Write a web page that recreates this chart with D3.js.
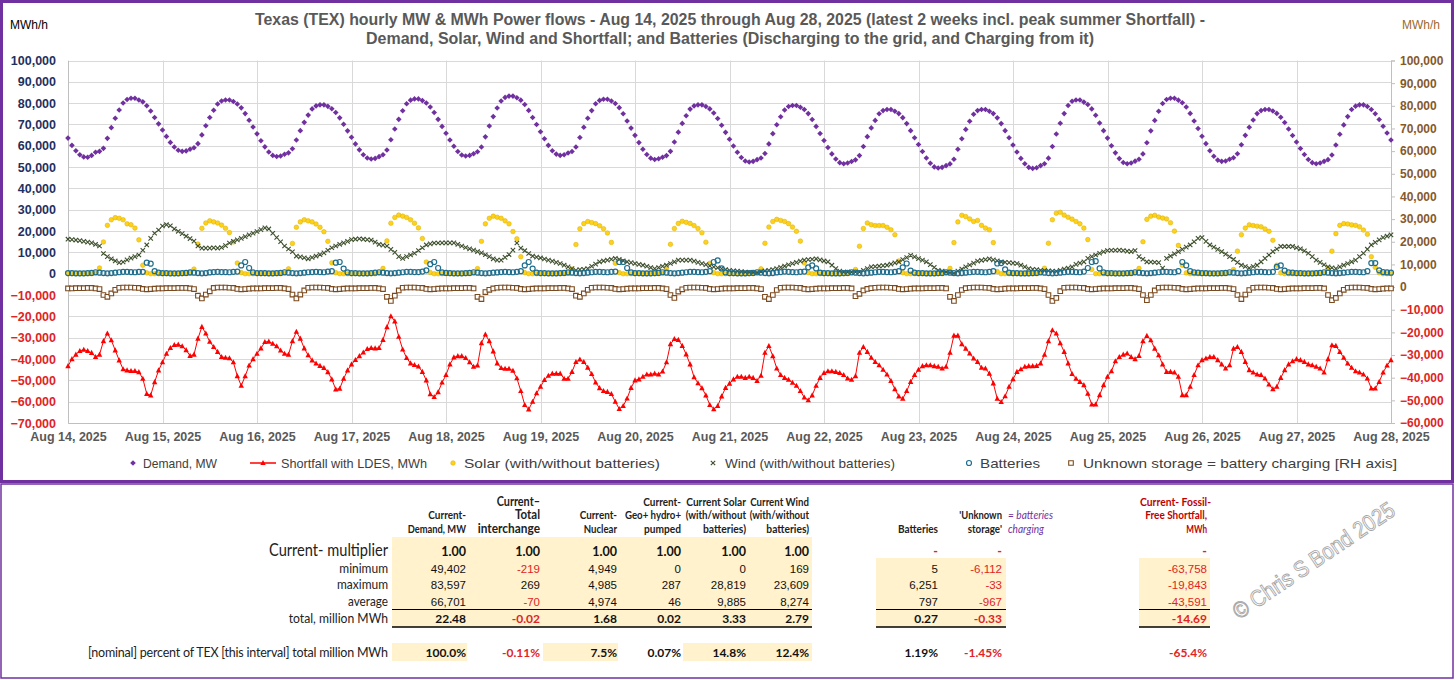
<!DOCTYPE html>
<html>
<head>
<meta charset="utf-8">
<script src="https://cdn.jsdelivr.net/npm/d3@7"></script>
<style>
  body { margin: 0; background: #fff; }
  svg { display: block; }
</style>
</head>
<body>
<svg id="chart" width="1456" height="680"></svg>
<script>
// hourly values, thousands of MW / MWh, Aug 14 00:00 .. Aug 28 00:00 (337 points)
const demandK = [
  63.6,60.2,57.7,55.8,54.8,54.6,55.5,57.0,57.4,58.8,63.5,68.5,72.9,76.8,80.1,81.7,82.3,82.3,81.5,80.6,78.8,76.3,73.3,70.3,
  67.4,64.4,61.6,59.4,57.9,57.4,57.6,58.4,59.1,61.0,65.1,69.4,73.3,76.7,79.6,81.0,81.5,81.5,80.8,79.6,77.8,75.1,72.0,68.8,
  65.6,62.4,59.5,57.1,55.5,55.0,55.2,56.0,56.7,58.6,62.7,67.1,71.0,74.4,77.3,78.7,79.2,79.2,78.5,77.4,75.6,73.1,70.1,67.0,
  64.0,60.9,58.1,55.8,54.3,53.8,54.1,54.9,55.8,58.0,62.8,67.9,72.4,76.4,79.7,81.4,82.0,82.0,81.2,80.1,78.2,75.6,72.4,69.1,
  65.9,62.7,59.8,57.3,55.7,55.2,55.5,56.3,57.2,59.4,64.2,69.3,73.7,77.7,81.0,82.7,83.3,83.3,82.5,81.4,79.4,76.6,73.3,70.0,
  66.6,63.3,60.2,57.7,56.1,55.5,55.8,56.6,57.3,59.4,63.9,68.7,72.9,76.5,79.7,81.3,81.8,81.8,81.0,79.8,77.9,75.0,71.6,68.3,
  64.9,61.5,58.4,55.9,54.2,53.6,53.9,54.6,55.4,57.4,61.8,66.4,70.5,74.1,77.2,78.7,79.2,79.2,78.4,77.3,75.4,72.8,69.6,66.3,
  63.1,59.9,57.0,54.5,52.9,52.4,52.7,53.5,54.3,56.4,60.9,65.7,69.9,73.6,76.8,78.4,78.9,78.9,78.1,77.0,75.1,72.3,69.1,65.8,
  62.5,59.2,56.2,53.8,52.1,51.6,51.9,52.6,53.4,55.4,59.7,64.3,68.4,71.9,75.0,76.5,77.0,77.0,76.2,75.1,73.2,70.4,67.1,63.8,
  60.6,57.3,54.3,51.8,50.1,49.6,49.9,50.7,51.5,53.7,58.4,63.3,67.7,71.5,74.8,76.5,77.0,77.0,76.2,75.1,73.1,70.4,67.1,63.8,
  60.4,57.1,54.1,51.6,49.9,49.4,49.7,50.7,51.6,54.2,59.7,65.5,70.6,75.1,78.9,80.9,81.5,81.5,80.5,79.4,77.3,74.3,70.7,67.1,
  63.6,60.0,56.7,54.0,52.2,51.6,51.9,52.8,53.7,56.2,61.4,67.0,71.9,76.2,79.8,81.7,82.3,82.3,81.4,80.2,78.2,75.2,71.6,68.1,
  64.5,61.0,57.7,55.1,53.3,52.7,52.9,53.7,54.4,56.3,60.5,64.9,68.7,72.1,75.1,76.5,77.0,77.0,76.3,75.2,73.4,70.9,67.9,64.8,
  61.8,58.7,55.9,53.6,52.1,51.6,51.9,52.7,53.5,55.7,60.4,65.4,69.8,73.7,77.0,78.6,79.2,79.2,78.4,77.0,75.0,72.3,69.2,66.0,
  62.7
];
const shortfallK = [
  -43.3,-40.0,-37.9,-36.2,-35.6,-36.2,-37.1,-39.0,-37.9,-31.6,-28.0,-31.2,-35.9,-40.6,-44.8,-45.3,-45.6,-45.6,-46.1,-49.2,-56.3,-57.0,-50.8,-45.3,
  -41.5,-37.5,-34.8,-33.4,-33.2,-34.0,-35.8,-38.5,-37.9,-30.4,-24.9,-28.0,-31.9,-34.3,-36.6,-39.0,-39.4,-39.6,-41.5,-48.0,-52.5,-48.0,-43.0,-40.0,
  -37.5,-35.0,-32.0,-31.8,-32.8,-34.0,-36.0,-37.5,-37.9,-31.6,-27.2,-30.4,-35.0,-38.2,-40.6,-42.1,-43.2,-44.2,-46.1,-49.5,-54.2,-53.9,-49.2,-45.3,
  -42.5,-40.4,-38.6,-36.9,-35.3,-34.8,-35.0,-34.8,-31.0,-25.0,-19.9,-22.3,-29.5,-35.5,-39.5,-42.0,-42.8,-43.5,-46.0,-50.0,-56.5,-57.8,-55.5,-51.0,
  -47.5,-42.5,-39.2,-38.6,-38.6,-39.5,-41.5,-43.6,-43.0,-32.5,-28.5,-31.6,-36.4,-42.0,-44.2,-44.5,-44.5,-45.5,-49.0,-55.0,-61.5,-63.6,-60.0,-56.0,
  -53.0,-49.8,-47.8,-46.8,-46.8,-46.8,-49.2,-49.2,-46.0,-41.4,-40.2,-41.4,-44.0,-47.0,-51.0,-53.6,-55.0,-55.4,-56.4,-60.0,-63.4,-62.0,-58.5,-53.5,
  -50.0,-49.5,-48.3,-47.2,-47.2,-46.8,-47.2,-45.8,-41.5,-33.0,-30.6,-31.0,-33.8,-37.8,-42.5,-48.5,-51.3,-53.6,-57.0,-61.5,-63.5,-62.0,-57.5,-53.5,
  -51.5,-49.5,-48.3,-48.3,-48.8,-48.3,-48.8,-50.2,-47.8,-37.0,-33.9,-38.6,-44.4,-47.5,-48.8,-49.7,-51.1,-52.5,-55.0,-58.0,-59.3,-57.0,-52.5,-48.8,
  -46.5,-45.7,-45.7,-46.0,-46.5,-47.5,-49.1,-49.7,-48.0,-37.0,-34.3,-36.6,-39.4,-41.3,-42.9,-45.0,-47.2,-50.2,-54.1,-57.5,-58.6,-55.0,-50.7,-47.5,
  -45.0,-43.3,-42.9,-42.9,-43.3,-43.6,-44.4,-43.6,-37.0,-29.0,-29.0,-33.0,-35.1,-37.4,-39.7,-41.3,-44.1,-44.4,-46.8,-51.4,-58.6,-60.1,-57.4,-53.0,
  -49.4,-46.0,-44.8,-43.6,-43.3,-43.3,-43.2,-42.0,-38.0,-31.6,-26.5,-28.0,-32.6,-36.6,-42.0,-47.0,-49.2,-50.7,-52.2,-56.2,-61.3,-61.3,-56.9,-52.2,
  -48.3,-45.7,-41.0,-39.0,-37.9,-37.4,-39.0,-40.0,-38.5,-31.6,-29.1,-31.2,-35.1,-38.2,-42.5,-46.0,-46.0,-46.3,-48.3,-56.9,-56.9,-53.0,-47.5,-42.9,
  -40.5,-39.7,-39.0,-39.0,-40.5,-42.5,-44.4,-42.9,-35.1,-34.3,-36.6,-41.3,-45.2,-46.3,-47.2,-47.5,-49.1,-51.9,-54.1,-53.0,-48.8,-45.2,-42.5,-41.0,
  -40.0,-40.5,-41.3,-42.5,-42.9,-43.6,-44.4,-46.3,-40.0,-33.5,-33.8,-36.6,-39.4,-42.1,-44.1,-45.7,-46.3,-47.2,-49.1,-53.8,-53.8,-50.7,-46.3,-43.0,
  -40.5
];
const solarK = [
  0,0,0,0,0,0,0,0.3,2.7,14.9,22.7,25.3,26.3,26.0,25.3,23.4,23.0,21.4,15.9,4.0,0.4,0,0,0,
  0,0,0,0,0,0,0,0.2,2.2,13.9,21.3,23.8,24.8,24.3,23.8,22.8,21.3,19.3,14.9,5.0,0.5,0,0,0,
  0,0,0,0,0,0,0,0.3,2.3,14.2,21.8,24.3,25.3,24.8,24.3,23.3,21.8,19.7,15.2,5.1,0.5,0,0,0,
  0,0,0,0,0,0,0,0.3,2.5,15.4,23.7,26.4,27.5,27.0,26.4,25.3,23.7,21.5,16.5,5.5,0.6,0,0,0,
  0,0,0,0,0,0,0,0.3,2.4,15.2,23.4,26.0,27.0,26.5,26.0,24.8,23.4,19.8,16.4,8.0,0.5,0,0,0,
  0,0,0,0,0,0,0,0.2,2.2,13.7,21.1,23.5,24.5,24.0,23.5,22.5,21.1,19.1,14.7,4.9,0.5,0,0,0,
  0,0,0,0,0,0,0,0.2,2.2,13.8,21.2,23.6,24.6,24.1,23.6,22.6,21.2,19.2,14.8,4.9,0.5,0,0,0,
  0,0,0,0,0,0,0,0.3,2.3,14.3,21.9,24.5,25.5,25.0,24.5,23.5,21.9,19.9,15.3,5.1,0.5,0,0,0,
  0,0,0,0,0,0,0,0.2,2.0,12.9,21.2,23.8,23.0,22.6,22.6,22.6,21.8,20.6,18.3,6.0,0.5,0,0,0,
  0,0,0,0,0,0,0,0.3,2.5,14.6,24.3,27.4,26.8,25.7,24.5,25.0,22.7,21.4,20.6,14.6,1.0,0,0,0,
  0,0,0,0,0,0,0,0.3,2.6,14.3,25.3,28.4,28.8,27.5,26.5,25.6,24.5,23.4,21.4,16.0,2.0,0,0,0,
  0,0,0,0,0,0,0,0.3,2.5,15.0,25.5,27.0,27.4,26.6,26.1,25.7,23.9,20.0,13.3,4.0,0.4,0,0,0,
  0,0,0,0,0,0,0,0.2,2.0,10.6,18.3,21.4,22.9,22.6,22.3,22.0,21.0,19.9,15.7,4.0,0.4,0,0,0,
  0,0,0,0,0,0,0,0.3,2.5,10.6,18.8,22.7,23.5,23.3,22.9,22.7,22.0,20.5,18.5,8.0,3.0,0.5,0,0,
  0
];
const windK = [
  16.2,16.0,15.8,15.5,15.2,14.8,14.5,13.8,13.0,9.5,8.0,7.0,6.0,5.2,5.5,6.5,7.3,8.0,8.8,11.0,13.5,16.6,19.0,20.5,
  22.4,23.0,22.5,21.0,19.9,18.8,17.6,16.5,15.3,13.0,12.0,12.0,12.0,12.2,12.0,12.3,13.2,14.4,15.2,15.9,16.6,17.4,18.2,19.0,
  19.8,20.7,21.5,21.0,19.0,17.0,15.0,13.0,11.6,10.3,8.3,7.9,7.5,7.0,7.6,8.3,9.0,9.8,11.0,12.2,13.0,13.8,14.5,15.2,
  16.0,16.2,16.4,16.2,16.0,15.8,14.8,13.8,13.4,13.0,11.4,10.0,8.0,7.2,8.0,8.8,9.6,10.9,12.2,13.5,14.0,14.4,14.4,14.5,
  14.5,14.5,14.5,13.8,13.0,12.3,11.7,11.1,10.4,9.8,8.9,8.0,7.0,6.4,6.4,7.7,9.0,11.1,14.4,12.0,10.8,9.5,8.3,7.8,
  7.4,6.9,6.4,5.9,5.3,4.8,4.0,3.2,2.4,1.6,1.9,2.1,2.4,3.5,4.5,5.6,6.0,6.4,6.8,7.2,6.7,6.1,5.6,5.2,
  4.8,4.4,4.0,3.5,2.9,2.4,2.9,3.5,4.0,4.8,5.6,6.4,6.4,6.4,6.4,5.9,5.3,4.8,4.3,3.7,3.2,2.8,2.4,2.0,
  1.6,1.4,1.2,1.0,0.8,0.7,0.6,0.5,0.9,1.3,1.6,2.0,2.4,3.0,3.6,4.2,4.8,5.3,5.9,6.4,6.6,6.8,7.0,6.5,
  6.0,5.6,4.0,2.4,1.2,0.8,0.8,0.8,0.8,0.8,1.6,2.4,3.2,3.4,3.6,3.8,4.0,4.5,5.1,5.6,6.6,7.6,8.6,7.9,
  7.1,6.4,5.6,4.3,3.0,1.6,1.2,0.8,0.5,0.2,1.2,2.2,3.2,4.1,5.0,5.9,6.3,6.6,7.0,6.5,6.1,5.6,5.4,5.2,
  5.0,4.8,4.0,3.2,2.4,2.1,1.9,1.6,1.5,1.4,1.2,1.1,1.6,2.2,2.7,3.2,4.4,5.0,5.6,7.2,8.0,8.8,9.6,10.3,
  10.9,11.0,11.0,11.1,10.9,10.6,10.4,10.9,8.0,6.8,5.6,5.5,5.4,5.2,2.7,7.2,8.3,9.3,10.4,11.4,12.5,13.5,15.0,16.6,
  17.0,15.2,13.5,12.5,11.4,10.4,9.2,8.0,6.7,5.3,4.0,3.4,2.7,3.4,4.0,5.6,7.2,8.8,10.4,11.6,12.8,12.8,12.8,12.8,
  12.2,11.7,10.7,9.6,8.0,6.4,5.3,4.2,3.2,2.8,2.4,3.2,4.0,4.8,5.6,6.4,8.0,9.6,11.5,13.5,14.7,15.9,17.0,17.6,
  18.2
];
const batteriesK = [
  0.3,0.3,0.2,0.2,0.2,0.3,0.4,0.7,0.5,0.3,0.2,0.3,0.5,0.7,0.9,0.9,0.8,0.7,0.9,0.9,5.2,4.7,1.2,0.5,
  0.3,0.3,0.2,0.2,0.2,0.3,0.4,0.6,0.5,0.3,0.2,0.3,0.6,0.8,0.9,0.8,0.8,0.7,0.9,1.0,3.9,5.5,2.7,0.6,
  0.3,0.3,0.3,0.2,0.2,0.3,0.4,0.7,0.5,0.3,0.2,0.3,0.5,0.7,0.8,0.9,0.8,0.7,1.0,1.2,5.2,5.5,2.4,0.6,
  0.3,0.3,0.2,0.2,0.2,0.3,0.5,0.7,0.5,0.3,0.2,0.3,0.5,0.7,0.9,0.9,0.8,0.8,1.0,1.6,4.5,5.5,2.7,0.6,
  0.4,0.3,0.2,0.2,0.2,0.3,0.4,0.7,0.5,0.3,0.2,0.3,0.5,0.6,0.8,0.9,0.8,0.7,0.9,1.2,3.9,5.5,2.4,0.5,
  0.3,0.3,0.2,0.2,0.2,0.3,0.4,0.6,0.5,0.3,0.2,0.3,0.5,0.7,0.9,0.9,0.8,0.7,0.9,1.0,5.5,5.5,2.7,0.6,
  0.3,0.3,0.2,0.2,0.2,0.3,0.4,0.7,0.5,0.3,0.2,0.3,0.5,0.7,0.9,0.9,0.8,0.7,0.9,1.2,5.5,6.25,2.5,0.6,
  0.3,0.3,0.2,0.2,0.2,0.3,0.4,0.7,0.5,0.3,0.2,0.3,0.6,0.8,1.0,0.9,0.8,0.7,0.9,1.0,3.0,3.9,2.5,0.5,
  0.3,0.3,0.2,0.2,0.2,0.3,0.4,0.7,0.5,0.3,0.2,0.3,0.5,0.7,0.9,0.9,0.8,0.7,0.9,1.2,3.0,4.8,1.5,0.5,
  0.3,0.3,0.2,0.2,0.2,0.3,0.4,0.7,0.5,0.3,0.2,0.3,0.5,0.7,0.9,0.9,0.8,0.7,0.9,1.2,4.8,5.0,2.0,0.5,
  0.3,0.3,0.2,0.2,0.2,0.3,0.4,0.7,0.5,0.3,0.2,0.3,0.5,0.7,0.9,0.9,0.8,0.7,1.0,2.7,5.5,5.9,2.5,0.6,
  0.3,0.3,0.2,0.2,0.2,0.3,0.4,0.7,0.5,0.3,0.2,0.3,0.5,0.7,0.9,0.9,0.8,0.7,1.2,5.5,3.9,1.2,0.6,0.5,
  0.3,0.3,0.2,0.2,0.2,0.3,0.4,0.7,0.5,0.3,0.2,0.3,0.5,0.7,0.9,0.9,0.8,0.7,0.9,3.2,3.9,1.5,0.6,0.5,
  0.3,0.3,0.2,0.2,0.2,0.3,0.4,0.7,0.5,0.3,0.2,0.3,0.5,0.7,0.9,0.9,0.8,0.7,1.2,5.0,5.0,1.6,0.8,0.6,
  0.5
];
// battery charging, plotted on the right-hand axis
const unknownStorageK = [
  -0.6,-0.6,-0.5,-0.5,-0.5,-0.4,-0.4,-0.6,-0.9,-3.5,-4.3,-2.8,-1.2,-0.3,-0.2,-0.2,-0.2,-0.3,-0.4,-0.8,-1.0,-0.9,-0.7,-0.6,
  -0.6,-0.5,-0.5,-0.5,-0.4,-0.4,-0.4,-0.6,-0.9,-3.8,-5.0,-3.3,-1.9,-0.4,-0.2,-0.2,-0.2,-0.3,-0.4,-0.8,-1.0,-0.9,-0.7,-0.6,
  -0.6,-0.6,-0.5,-0.5,-0.5,-0.4,-0.4,-0.6,-0.9,-3.3,-5.0,-3.3,-1.5,-0.3,-0.2,-0.2,-0.2,-0.3,-0.4,-0.8,-1.0,-0.9,-0.7,-0.6,
  -0.6,-0.6,-0.5,-0.5,-0.5,-0.4,-0.4,-0.6,-0.9,-4.3,-6.1,-3.8,-1.5,-0.3,-0.2,-0.2,-0.2,-0.3,-0.4,-0.8,-1.0,-0.9,-0.7,-0.6,
  -0.6,-0.6,-0.5,-0.5,-0.5,-0.4,-0.4,-0.6,-4.3,-5.3,-2.2,-1.2,-0.6,-0.3,-0.2,-0.2,-0.2,-0.3,-0.4,-0.8,-1.0,-0.9,-0.7,-0.6,
  -0.6,-0.6,-0.5,-0.5,-0.5,-0.4,-0.4,-0.6,-0.9,-3.8,-4.3,-2.8,-1.2,-0.3,-0.2,-0.2,-0.2,-0.3,-0.4,-0.8,-1.0,-0.9,-0.7,-0.6,
  -0.6,-0.6,-0.5,-0.5,-0.5,-0.4,-0.4,-0.6,-0.9,-3.5,-4.8,-2.0,-1.0,-0.3,-0.2,-0.2,-0.2,-0.3,-0.4,-0.8,-1.0,-0.9,-0.7,-0.6,
  -0.6,-0.6,-0.5,-0.5,-0.5,-0.4,-0.4,-0.6,-0.9,-4.3,-5.3,-3.5,-1.3,-0.3,-0.2,-0.2,-0.2,-0.3,-0.4,-0.8,-1.0,-0.9,-0.7,-0.6,
  -0.6,-0.6,-0.5,-0.5,-0.5,-0.4,-0.4,-0.6,-4.0,-3.0,-1.5,-0.8,-0.5,-0.3,-0.2,-0.2,-0.2,-0.3,-0.4,-0.8,-1.0,-0.9,-0.7,-0.6,
  -0.6,-0.6,-0.5,-0.5,-0.5,-0.4,-0.4,-0.6,-4.3,-6.1,-3.5,-1.3,-0.5,-0.3,-0.2,-0.2,-0.2,-0.3,-0.4,-0.8,-1.0,-0.9,-0.7,-0.6,
  -0.6,-0.6,-0.5,-0.5,-0.5,-0.4,-0.4,-0.6,-0.9,-3.5,-6.1,-4.8,-1.8,-0.3,-0.2,-0.2,-0.2,-0.3,-0.4,-0.8,-1.0,-0.9,-0.7,-0.6,
  -0.6,-0.6,-0.5,-0.5,-0.5,-0.4,-0.4,-0.6,-0.9,-3.5,-5.8,-3.5,-1.5,-0.3,-0.2,-0.2,-0.2,-0.3,-0.4,-0.8,-1.0,-0.9,-0.7,-0.6,
  -0.6,-0.6,-0.5,-0.5,-0.5,-0.4,-0.4,-0.6,-0.9,-3.5,-5.3,-3.3,-1.3,-0.3,-0.2,-0.2,-0.2,-0.3,-0.4,-0.8,-1.0,-0.9,-0.7,-0.6,
  -0.6,-0.6,-0.5,-0.5,-0.5,-0.4,-0.4,-0.6,-3.5,-5.8,-4.8,-2.8,-1.2,-0.3,-0.2,-0.2,-0.2,-0.3,-0.4,-0.8,-1.0,-0.9,-0.7,-0.6,
  -0.6
];

const dayLabels = ["Aug 14, 2025","Aug 15, 2025","Aug 16, 2025","Aug 17, 2025","Aug 18, 2025","Aug 19, 2025","Aug 20, 2025",
  "Aug 21, 2025","Aug 22, 2025","Aug 23, 2025","Aug 24, 2025","Aug 25, 2025","Aug 26, 2025","Aug 27, 2025","Aug 28, 2025"];
const leftTicks = d3.range(-70000, 100001, 10000);
const rightTicks = d3.range(-60000, 100001, 10000);
const titleLines = [
  "Texas (TEX) hourly MW & MWh Power flows - Aug 14, 2025 through Aug 28, 2025 (latest 2 weeks incl. peak summer Shortfall) -",
  "Demand, Solar, Wind and Shortfall;  and Batteries (Discharging to the grid, and Charging from it)"
];
const legendLabels = ["Demand, MW", "Shortfall with LDES, MWh", "Solar (with/without batteries)",
  "Wind (with/without  batteries)", "Batteries", "Unknown storage = battery charging [RH axis]"];

// summary table
const tableHeads = [
  ["", "Current-", "Demand, MW"],
  ["Current\u2013", "Total", "interchange"],
  ["", "Current-", "Nuclear"],
  ["Current-", "Geo+ hydro+", "pumped"],
  ["Current Solar", "(with/without", "batteries)"],
  ["Current Wind", "(with/without", "batteries)"],
  ["", "", "Batteries"],
  ["", "'Unknown", "storage'"],
  ["Current- Fossil-", "Free Shortfall,", "MWh"]
];
const rowLabels = ["Current- multiplier", "minimum", "maximum", "average", "total, million MWh"];
const multiplierRow = ["1.00","1.00","1.00","1.00","1.00","1.00","-","-","-"];
const minRow = [49402, -219, 4949, 0, 0, 169, 5, -6112, -63758];
const maxRow = [83597, 269, 4985, 287, 28819, 23609, 6251, -33, -19843];
const avgRow = [66701, -70, 4974, 46, 9885, 8274, 797, -967, -43591];
const totalRow = [22.48, -0.02, 1.68, 0.02, 3.33, 2.79, 0.27, -0.33, -14.69];
const pctLabel = "[nominal] percent of TEX [this interval] total million MWh";
const pctRow = ["100.0%", "-0.11%", "7.5%", "0.07%", "14.8%", "12.4%", "1.19%", "-1.45%", "-65.4%"];

const toMW = v => v * 1000;

const svg = d3.select("#chart");
const W = 1456, H = 680;
const NAVY = "#1f3060", RED = "#e02424", BROWN = "#85592b", GREY = "#595959";
const PURPLE = "#7030a0";
const narrow = "'Liberation Sans Narrow', 'Arial Narrow', 'Liberation Sans', Arial, sans-serif";
const arial = "'Liberation Sans', Arial, sans-serif";
const calibri = "Lato, 'Open Sans', sans-serif";

svg.append("rect").attr("width", W).attr("height", H).attr("fill", "#fff");

const plot = { left: 68, right: 1391, top: 60.5, bottom: 423 };
const x = d3.scaleLinear().domain([0, 336]).range([plot.left, plot.right]);
const yL = d3.scaleLinear().domain([-70000, 100000]).range([plot.bottom, plot.top]);
const yR = d3.scaleLinear().domain([-60000, 100000]).range([plot.bottom, plot.top]);

// grid
svg.append("g")
  .selectAll("line")
  .data(leftTicks)
  .join("line")
  .attr("x1", plot.left).attr("x2", plot.right)
  .attr("y1", d => Math.round(yL(d)) + 0.5).attr("y2", d => Math.round(yL(d)) + 0.5)
  .attr("stroke", "#d9d9d9");
svg.append("g")
  .selectAll("line")
  .data(d3.range(0, 337, 24))
  .join("line")
  .attr("x1", d => Math.round(x(d)) + 0.5).attr("x2", d => Math.round(x(d)) + 0.5)
  .attr("y1", plot.top).attr("y2", plot.bottom)
  .attr("stroke", "#d9d9d9");

// axes
const gL = svg.append("g")
  .attr("transform", `translate(${plot.left},0)`)
  .call(d3.axisLeft(yL).tickValues(leftTicks).tickFormat(d3.format(",")).tickSize(0).tickPadding(12));
gL.select(".domain").attr("stroke", "#bfbfbf");
gL.selectAll("text")
  .attr("font-family", arial).attr("font-size", 12.5).attr("font-weight", "bold")
  .attr("fill", d => d < 0 ? RED : NAVY);

const gR = svg.append("g")
  .attr("transform", `translate(${plot.right},0)`)
  .call(d3.axisRight(yR).tickValues(rightTicks).tickFormat(d3.format(",")).tickSize(4).tickPadding(5));
gR.select(".domain").attr("stroke", "#bfbfbf");
gR.selectAll(".tick line").attr("stroke", "#bfbfbf");
gR.selectAll("text")
  .attr("font-family", arial).attr("font-size", 12).attr("font-weight", "bold")
  .attr("fill", d => d < 0 ? RED : BROWN);

const gX = svg.append("g")
  .attr("transform", `translate(0,${plot.bottom})`)
  .call(d3.axisBottom(x).tickValues(d3.range(0, 337, 24)).tickFormat((d, i) => dayLabels[i]).tickSize(0).tickPadding(9));
gX.select(".domain").attr("stroke", "#bfbfbf");
gX.selectAll("text")
  .attr("font-family", arial).attr("font-size", 12.5).attr("font-weight", "bold").attr("fill", GREY);

// markers
const markerPath = {
  diamond: "M0,-2.8L2.8,0L0,2.8L-2.8,0Z",
  triangle: "M0,-3L2.7,2.1L-2.7,2.1Z",
  cross: "M-2.2,-2.2L2.2,2.2M-2.2,2.2L2.2,-2.2",
  square: "M-2.3,-2.3H2.3V2.3H-2.3Z"
};

function drawMarkers(values, yScale, kind, style) {
  const g = svg.append("g");
  const sel = g.selectAll("*")
    .data(values)
    .join(kind === "circle" ? "circle" : "path");
  if (kind === "circle") {
    sel.attr("cx", (d, i) => x(i)).attr("cy", d => yScale(toMW(d))).attr("r", style.r);
  } else {
    sel.attr("transform", (d, i) => `translate(${x(i)},${yScale(toMW(d))})`).attr("d", markerPath[kind]);
  }
  sel.attr("fill", style.fill || "none")
    .attr("stroke", style.stroke || "none")
    .attr("stroke-width", style.sw || 1);
  return g;
}

// series
drawMarkers(demandK, yL, "diamond", { fill: PURPLE });

svg.append("path")
  .datum(shortfallK)
  .attr("fill", "none")
  .attr("stroke", "#ff0000")
  .attr("stroke-width", 1)
  .attr("d", d3.line().x((d, i) => x(i)).y(d => yL(toMW(d))));
drawMarkers(shortfallK, yL, "triangle", { fill: "#ff0000" });

drawMarkers(solarK, yL, "circle", { r: 2.3, fill: "#ffd21a", stroke: "#d9ac00", sw: 0.5 });
drawMarkers(windK, yL, "cross", { stroke: "#3d4f2c", sw: 1.1 });
drawMarkers(batteriesK, yL, "circle", { r: 2.5, fill: "none", stroke: "#1f6e8e", sw: 1.2 });
drawMarkers(unknownStorageK, yR, "square", { fill: "#fff", stroke: "#7b4a1e", sw: 1.1 });

// title and unit labels
svg.append("g")
  .selectAll("text")
  .data(titleLines)
  .join("text")
  .attr("x", 730).attr("y", (d, i) => 25 + i * 19)
  .attr("text-anchor", "middle")
  .attr("font-family", narrow).attr("font-size", 16).attr("font-weight", "bold").attr("fill", GREY)
  .attr("textLength", (d, i) => i === 0 ? 950 : 728).attr("lengthAdjust", "spacingAndGlyphs")
  .text(d => d);

svg.append("text").attr("x", 10).attr("y", 29)
  .attr("font-family", narrow).attr("font-size", 12).attr("fill", "#000")
  .attr("textLength", 38).attr("lengthAdjust", "spacingAndGlyphs").text("MWh/h");
svg.append("text").attr("x", 1402).attr("y", 29)
  .attr("font-family", narrow).attr("font-size", 12).attr("fill", "#9a6a2e")
  .attr("textLength", 38).attr("lengthAdjust", "spacingAndGlyphs").text("MWh/h");

// legend
const legendPos = [
  { mx: 133, tx: 143, w: 74, kind: "diamond" },
  { mx: 263, tx: 281, w: 146, kind: "triangle" },
  { mx: 453, tx: 464, w: 196, kind: "solar" },
  { mx: 713, tx: 725, w: 170, kind: "cross" },
  { mx: 969, tx: 980, w: 60, kind: "battery" },
  { mx: 1071, tx: 1083, w: 314, kind: "square" }
];
const legY = 463;
const lg = svg.append("g");
legendPos.forEach((p, i) => {
  if (p.kind === "triangle") {
    lg.append("line").attr("x1", p.mx - 13).attr("x2", p.mx + 13).attr("y1", legY).attr("y2", legY)
      .attr("stroke", "#ff0000").attr("stroke-width", 1.5);
    lg.append("path").attr("d", markerPath.triangle).attr("transform", `translate(${p.mx},${legY})`).attr("fill", "#ff0000");
  } else if (p.kind === "diamond") {
    lg.append("path").attr("d", markerPath.diamond).attr("transform", `translate(${p.mx},${legY})`).attr("fill", PURPLE);
  } else if (p.kind === "solar") {
    lg.append("circle").attr("cx", p.mx).attr("cy", legY).attr("r", 2.3).attr("fill", "#ffd21a").attr("stroke", "#d9ac00").attr("stroke-width", 0.5);
  } else if (p.kind === "cross") {
    lg.append("path").attr("d", markerPath.cross).attr("transform", `translate(${p.mx},${legY})`).attr("stroke", "#3d4f2c").attr("stroke-width", 1.1);
  } else if (p.kind === "battery") {
    lg.append("circle").attr("cx", p.mx).attr("cy", legY).attr("r", 2.5).attr("fill", "none").attr("stroke", "#1f6e8e").attr("stroke-width", 1.2);
  } else {
    lg.append("path").attr("d", markerPath.square).attr("transform", `translate(${p.mx},${legY})`).attr("fill", "#fff").attr("stroke", "#7b4a1e").attr("stroke-width", 1.1);
  }
  lg.append("text").attr("x", p.tx).attr("y", legY + 4.5)
    .attr("font-family", narrow).attr("font-size", 13.5).attr("fill", "#404040")
    .attr("textLength", p.w).attr("lengthAdjust", "spacingAndGlyphs")
    .text(legendLabels[i]);
});

// frames
svg.append("rect").attr("x", 1.5).attr("y", 1.5).attr("width", 1451).attr("height", 480)
  .attr("fill", "none").attr("stroke", PURPLE).attr("stroke-width", 3);
svg.append("rect").attr("x", 1).attr("y", 484).attr("width", 1452).attr("height", 194)
  .attr("fill", "none").attr("stroke", PURPLE).attr("stroke-width", 1.5);

// ---- table ----
const colRight = [466, 540, 617, 681, 746, 809, 938, 1002, 1207];
const headWidth = [
  [0, 37.7, 58.3], [43.3, 25, 62.3], [0, 37.3, 33.3], [37.7, 56, 37], [59.7, 60.3, 43],
  [58.7, 59.3, 42.7], [0, 0, 40], [0, 42.7, 34.3], [71, 61.7, 20.7]
];
const tb = svg.append("g");
const YELLOW = "#fff2cc";
[[392, 537, 420, 90], [876, 558, 130, 69], [1139, 558, 71, 69],
 [392, 643, 75, 18], [543, 643, 75, 18], [683, 643, 129, 18]].forEach(r => {
  tb.append("rect").attr("x", r[0]).attr("y", r[1]).attr("width", r[2]).attr("height", r[3]).attr("fill", YELLOW);
});
[[392, 812], [876, 1006], [1139, 1210]].forEach(s => {
  tb.append("line").attr("x1", s[0]).attr("x2", s[1]).attr("y1", 609.5).attr("y2", 609.5).attr("stroke", "#000").attr("stroke-width", 1);
  tb.append("line").attr("x1", s[0]).attr("x2", s[1]).attr("y1", 627).attr("y2", 627).attr("stroke", "#000").attr("stroke-width", 1.5);
});

const headY = [505.5, 519, 532.5];
tableHeads.forEach((lines, c) => {
  lines.forEach((t, k) => {
    if (!t) return;
    tb.append("text").attr("x", colRight[c] + (c === 8 && k === 0 ? 4 : 0)).attr("y", headY[k])
      .attr("text-anchor", "end")
      .attr("font-family", calibri).attr("font-weight", "bold")
      .attr("font-size", c === 1 ? 13 : 11)
      .attr("fill", c === 8 ? "#c00000" : "#222")
      .attr("textLength", headWidth[c][k]).attr("lengthAdjust", "spacingAndGlyphs")
      .text(t);
  });
});
tb.append("text").attr("x", 1008).attr("y", headY[1]).attr("font-family", calibri).attr("font-style", "italic")
  .attr("font-size", 11).attr("fill", PURPLE)
  .attr("textLength", 45).attr("lengthAdjust", "spacingAndGlyphs").text("= batteries");
tb.append("text").attr("x", 1008).attr("y", headY[2]).attr("font-family", calibri).attr("font-style", "italic")
  .attr("font-size", 11).attr("fill", PURPLE)
  .attr("textLength", 36).attr("lengthAdjust", "spacingAndGlyphs").text("charging");

const rowY = [555.5, 572.5, 589, 606, 623];
const rowLabelWidth = [119, 48.7, 51, 40, 99.3];
rowLabels.forEach((t, r) => {
  tb.append("text").attr("x", 388).attr("y", rowY[r]).attr("text-anchor", "end")
    .attr("font-family", calibri).attr("font-size", r === 0 ? 17 : 12.5).attr("fill", "#222")
    .attr("textLength", rowLabelWidth[r]).attr("lengthAdjust", "spacingAndGlyphs")
    .text(t);
});
tb.append("text").attr("x", 388).attr("y", 656.5).attr("text-anchor", "end")
  .attr("font-family", calibri).attr("font-size", 12.5).attr("fill", "#222")
  .attr("textLength", 300).attr("lengthAdjust", "spacing").text(pctLabel);

const fmtInt = d3.format(",");
const fmt2 = d3.format(".2f");
function cell(c, y, txt, neg, bold, size) {
  tb.append("text").attr("x", colRight[c]).attr("y", y).attr("text-anchor", "end")
    .attr("font-family", bold ? calibri : arial).attr("font-weight", bold ? "bold" : "normal")
    .attr("font-size", size)
    .attr("fill", neg || c === 8 ? RED : "#111")
    .text(txt);
}
multiplierRow.forEach((v, c) => cell(c, rowY[0], v, v === "-", true, 12.5));
minRow.forEach((v, c) => cell(c, rowY[1], fmtInt(v).replace("\u2212", "-"), v < 0, false, 11.5));
maxRow.forEach((v, c) => cell(c, rowY[2], fmtInt(v).replace("\u2212", "-"), v < 0, false, 11.5));
avgRow.forEach((v, c) => cell(c, rowY[3], fmtInt(v).replace("\u2212", "-"), v < 0, false, 11.5));
totalRow.forEach((v, c) => cell(c, rowY[4], fmt2(v).replace("\u2212", "-"), v < 0, true, 12));
pctRow.forEach((v, c) => cell(c, 656.5, v, v.startsWith("-"), true, 12));

// watermark
svg.append("text")
  .attr("transform", "translate(1318,567) rotate(-34)")
  .attr("text-anchor", "middle")
  .attr("font-family", arial).attr("font-size", 23)
  .attr("fill", "#fff").attr("stroke", "#a6a6a6").attr("stroke-width", 0.9)
  .attr("textLength", 190).attr("lengthAdjust", "spacingAndGlyphs")
  .text("\u00a9 Chris S Bond  2025");
</script>
</body>
</html>
